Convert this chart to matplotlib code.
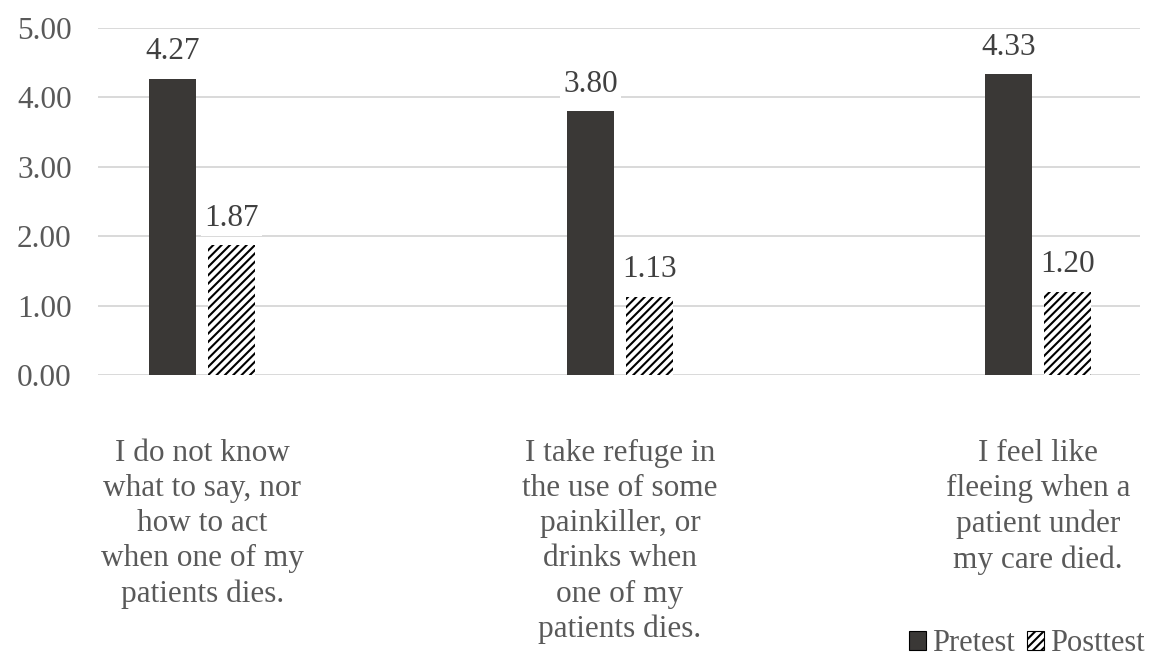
import matplotlib.pyplot as plt
import matplotlib.patches as mpatches
import numpy as np

categories = ["I do not know\nwhat to say, nor\nhow to act\nwhen one of my\npatients dies.",
              "I take refuge in\nthe use of some\npainkiller, or\ndrinks when\none of my\npatients dies.",
              "I feel like\nfleeing when a\npatient under\nmy care died."]
pretest = [4.27, 3.80, 4.33]
posttest = [1.87, 1.13, 1.20]
series_names = ["Pretest", "Posttest"]

plt.rcParams['font.family'] = ['Liberation Serif', 'DejaVu Serif']
plt.rcParams['hatch.linewidth'] = 1.5
text_color = '#595959'
bar_color = '#3a3836'
grid_color = '#d9d9d9'
fs = 22.5

fig = plt.figure(figsize=(11.55, 6.62), dpi=100)
ax = fig.add_axes([98 / 1155, 1 - 375 / 662, (1140 - 98) / 1155, (375 - 28) / 662])

x = np.arange(len(categories))
w = 0.112
off = 0.0706
b1 = ax.bar(x - off, pretest, w, color=bar_color, linewidth=0, zorder=3)
b2 = ax.bar(x + off, posttest, w, color='white', edgecolor='black', hatch='////',
            linewidth=0, zorder=3)

for bars, vals in ((b1, pretest), (b2, posttest)):
    for rect, v in zip(bars, vals):
        ax.annotate('{:.2f}'.format(v), (rect.get_x() + rect.get_width() / 2, v),
                    xytext=(0, 9), textcoords='offset points', ha='center', va='bottom',
                    fontsize=fs, color='#404040', zorder=4,
                    bbox=dict(boxstyle='square,pad=0.1', fc='white', ec='none'))

ax.set_ylim(0, 5)
ax.set_xlim(-0.249, 2.244)
ax.set_yticks(np.arange(0, 5.01, 1))
ax.set_yticklabels(['{:.2f}'.format(t) for t in np.arange(0, 5.01, 1)])
ax.set_xticks(x)
ax.set_xticklabels(categories, linespacing=1.28)
ax.tick_params(axis='both', length=0, labelsize=fs, colors=text_color)
ax.tick_params(axis='y', pad=19)
ax.tick_params(axis='x', pad=46)
ax.grid(axis='y', color=grid_color, linewidth=1.4, zorder=0)
for s in ax.spines.values():
    s.set_visible(False)

h1 = mpatches.Patch(facecolor=bar_color, edgecolor='black', linewidth=0.8)
h2 = mpatches.Patch(facecolor='white', edgecolor='black', hatch='////', linewidth=0.8)
leg = fig.legend([h1, h2], series_names, loc='lower right', bbox_to_anchor=(1.015, -0.036),
                 ncol=2, frameon=False, fontsize=22, handlelength=0.55, handleheight=0.55,
                 handletextpad=0.2, columnspacing=0.4, labelcolor=text_color)

fig.savefig('out.png', dpi=100)
